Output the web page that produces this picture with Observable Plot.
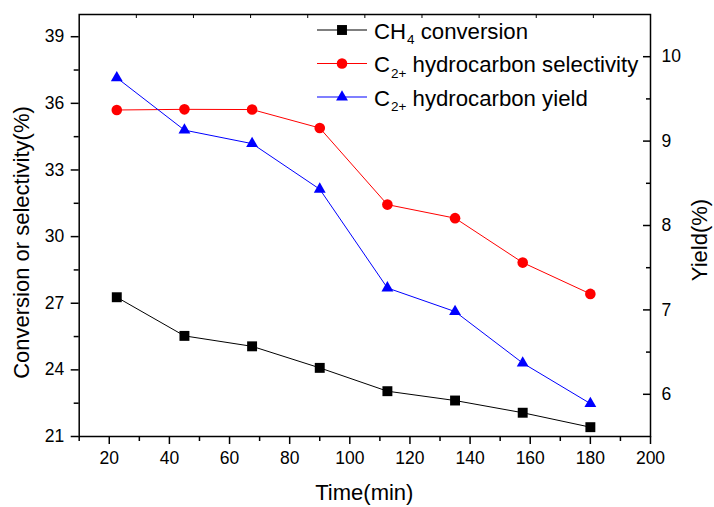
<!DOCTYPE html>
<html><head><meta charset="utf-8">
<script src="https://cdn.jsdelivr.net/npm/d3@7"></script>
<script src="https://cdn.jsdelivr.net/npm/@observablehq/plot@0.6"></script>
<style>
html,body{margin:0;padding:0;background:#fff;}
#chart{width:714px;height:507px;}
</style></head><body><div id="chart"></div>
<script>
// ---- data ----
const times = [22.5, 45, 67.5, 90, 112.5, 135, 157.5, 180];
const ch4Conversion = [27.27, 25.53, 25.06, 24.09, 23.04, 22.62, 22.07, 21.42];
const c2Selectivity = [35.70, 35.73, 35.72, 34.89, 31.44, 30.83, 28.83, 27.42];
const c2Yield = [9.75, 9.13, 8.97, 8.43, 7.26, 6.98, 6.37, 5.89];

const xDomain = [10, 200];
const leftDomain = [21, 40];
const rightDomain = [5.5, 10.5];
const xTicks = [20, 40, 60, 80, 100, 120, 140, 160, 180, 200];
const xMinorTicks = [10, 30, 50, 70, 90, 110, 130, 150, 170, 190];
const leftTicks = [21, 24, 27, 30, 33, 36, 39];
const leftMinorTicks = [22.5, 25.5, 28.5, 31.5, 34.5, 37.5];
const rightTicks = [6, 7, 8, 9, 10];
const rightMinorTicks = [6.5, 7.5, 8.5, 9.5];
const topDivisions = 10;

const seriesLabels = [["CH", "4", " conversion"], ["C", "2+", " hydrocarbon selectivity"], ["C", "2+", " hydrocarbon yield"]];
const seriesColors = ["#000000", "#ff0000", "#0000ff"];
const seriesSymbols = ["square", "circle", "triangle"];
const seriesR = [5.6, 5.3, 4.4];
const xLabel = "Time(min)";
const yLabel = "Conversion or selectivity(%)";
const y2Label = "Yield(%)";

// ---- helpers ----
const k = (leftDomain[1] - leftDomain[0]) / (rightDomain[1] - rightDomain[0]);
const toLeft = v => leftDomain[0] + (v - rightDomain[0]) * k;
const fromLeft = v => rightDomain[0] + (v - leftDomain[0]) / k;
const rows = times.map((t, i) => ({t, conv: ch4Conversion[i], sel: c2Selectivity[i], yld: toLeft(c2Yield[i])}));
const keys = ["conv", "sel", "yld"];
const topTicks = d3.range(1, topDivisions).map(i => xDomain[0] + i * (xDomain[1] - xDomain[0]) / topDivisions);

const W = 714, H = 507, ML = 78.7, MR = 64, MT = 14, MB = 71;
const font = "'Liberation Sans', Arial, sans-serif";

const seriesMarks = keys.flatMap((key, i) => [
  Plot.line(rows, {x: "t", y: key, stroke: seriesColors[i], strokeWidth: 1}),
  Plot.dot(rows, {x: "t", y: key, symbol: seriesSymbols[i], r: seriesR[i], fill: seriesColors[i], stroke: "none"})
]);

const plot = Plot.plot({
  width: W, height: H,
  marginLeft: ML, marginRight: MR, marginTop: MT, marginBottom: MB,
  style: {fontFamily: font, fontSize: "17.5px", color: "#000", background: "#fff", overflow: "visible"},
  x: {domain: xDomain},
  y: {domain: leftDomain},
  marks: [
    Plot.axisX(xTicks, {tickSize: 8, tickPadding: 7.5, strokeWidth: 1.5, label: null, tickFormat: d => String(d)}),
    Plot.axisX(xMinorTicks, {tickSize: 5, strokeWidth: 1.5, fill: "none", label: null}),
    Plot.axisX(topTicks, {anchor: "top", tickSize: -3, strokeWidth: 1, fill: "none", label: null}),
    Plot.axisY(leftTicks, {tickSize: 8, tickPadding: 7, strokeWidth: 1.5, label: null, tickFormat: d => String(d)}),
    Plot.axisY(leftMinorTicks, {tickSize: 5, strokeWidth: 1.5, fill: "none", label: null}),
    Plot.axisY(rightTicks.map(toLeft), {anchor: "right", tickSize: -8, strokeWidth: 1.5, fill: "none", label: null}),
    Plot.axisY(rightTicks.map(toLeft), {anchor: "right", tickSize: 0, tickPadding: 11, label: null, tickFormat: d => String(Math.round(fromLeft(d) * 10) / 10)}),
    Plot.axisY(rightMinorTicks.map(toLeft), {anchor: "right", tickSize: -5, strokeWidth: 1.5, fill: "none", label: null}),
    ...seriesMarks,
    Plot.frame({stroke: "#000", strokeWidth: 1.5})
  ]
});
document.getElementById("chart").appendChild(plot);

// ---- titles and legend (layout) ----
const svg = d3.select(plot);
const g = svg.append("g").attr("font-family", font).attr("fill", "#000");
g.append("text").attr("x", (ML + W - MR) / 2).attr("y", 500).attr("text-anchor", "middle")
  .attr("font-size", 22).text(xLabel);
g.append("text").attr("transform", "translate(28.5,242.5) rotate(-90)").attr("text-anchor", "middle")
  .attr("font-size", 22).text(yLabel);
g.append("text").attr("transform", "translate(707,240) rotate(-90)").attr("text-anchor", "middle")
  .attr("font-size", 22).text(y2Label);

const legendRowsY = [30, 63.5, 97];
const leg = svg.append("g").attr("font-family", font).attr("text-anchor", "start");
seriesLabels.forEach((parts, i) => {
  const y = legendRowsY[i];
  leg.append("line").attr("x1", 317).attr("x2", 367).attr("y1", y).attr("y2", y)
    .attr("stroke", seriesColors[i]).attr("stroke-width", 1.2);
  leg.append("path").attr("transform", `translate(342,${y})`)
    .attr("d", d3.symbol(seriesSymbols[i] === "square" ? d3.symbolSquare : seriesSymbols[i] === "circle" ? d3.symbolCircle : d3.symbolTriangle, Math.PI * seriesR[i] * seriesR[i])())
    .attr("fill", seriesColors[i]);
  const t = leg.append("text").attr("x", 374).attr("y", y + 8.8).attr("font-size", 22.2)
    .attr("fill", "#000").attr("text-anchor", "start");
  t.append("tspan").text(parts[0]);
  t.append("tspan").attr("font-size", 13.5).attr("dy", 5.5).attr("dx", 1).text(parts[1]);
  t.append("tspan").attr("dy", -5.5).text(parts[2]);
});
</script></body></html>
